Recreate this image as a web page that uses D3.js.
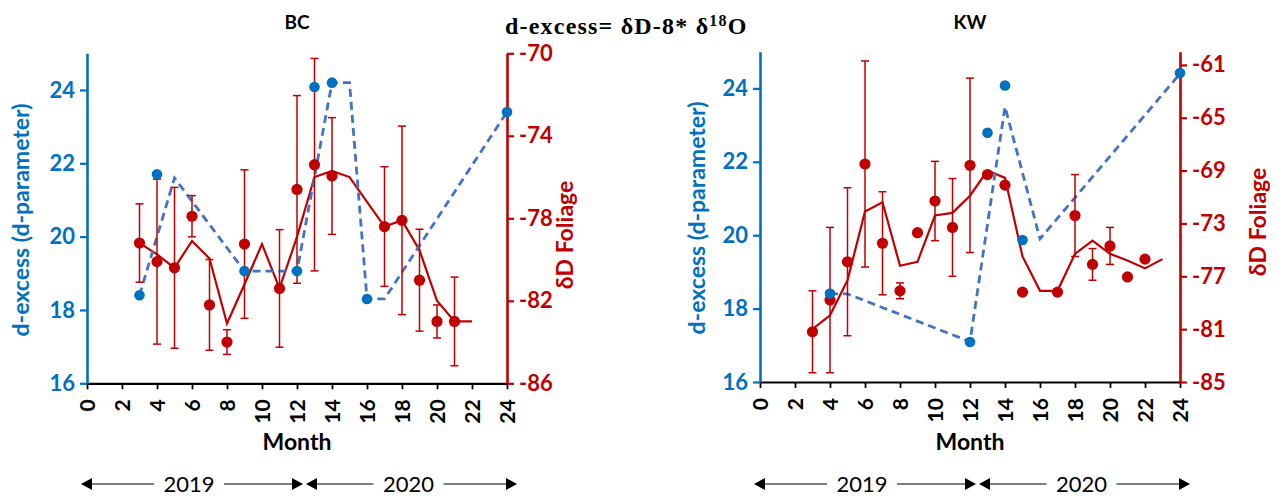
<!DOCTYPE html>
<html><head><meta charset="utf-8">
<script src="https://cdn.jsdelivr.net/npm/d3@7"></script>
<style>body{margin:0;background:#fff}svg{display:block}</style>
</head><body><svg id="chart" width="1284" height="497"></svg>
<script>
// ---------- data ----------
const monthTicks = [0,2,4,6,8,10,12,14,16,18,20,22,24];
const dexTicks = [16,18,20,22,24];
const bcDDTicks = [-86,-82,-78,-74,-70];
const kwDDTicks = [-85,-81,-77,-73,-69,-65,-61];
const yearLabels = ["2019","2020"];

// BC
const bcDexMonths = [3,4,9,12,13,14,16,24];
const bcDexValues = [18.4,21.7,19.06,19.06,24.08,24.2,18.3,23.4];
const bcDexLineMonths = [3,5,9,12,14,15,16,17,24];
const bcDexLineValues = [18.4,21.6,19.06,19.06,24.2,24.2,18.3,18.3,23.4];
const bcDDMonths = [3,4,5,6,7,8,9,11,12,13,14,17,18,19,20,21];
const bcDDValues = [-79.2,-80.1,-80.4,-77.9,-82.2,-84.0,-79.25,-81.4,-76.6,-75.4,-75.95,-78.4,-78.1,-81.0,-83.0,-83.0];
const bcDDErr = [1.9,4.0,3.9,1.0,2.2,0.6,3.6,2.85,4.55,5.15,2.83,2.9,4.57,2.47,0.8,2.15];
const bcDDLineMonths = [3,4,5,6,7,8,9,10,11,12,13,14,15,16,17,18,19,20,21,22];
const bcDDLineValues = [-79.2,-79.75,-80.4,-79.1,-79.95,-83.1,-81.2,-79.25,-81.4,-78.9,-76.0,-75.7,-76.0,-77.2,-78.4,-78.1,-79.55,-82.0,-83.0,-83.0];

// KW
const kwDexMonths = [4,12,13,14,15,24];
const kwDexValues = [18.41,17.09,22.79,24.08,19.87,24.42];
const kwDexLineMonths = [4,5,12,14,16,24];
const kwDexLineValues = [18.4,18.4,17.1,23.5,19.9,24.4];
const kwDDMonths = [3,4,5,6,7,8,9,10,11,12,13,14,15,17,18,19,20,21,22];
const kwDDValues = [-81.2,-78.8,-75.9,-68.5,-74.5,-78.1,-73.7,-71.3,-73.3,-68.6,-69.3,-70.1,-78.2,-78.2,-72.4,-76.1,-74.7,-77.05,-75.7];
const kwDDErr = [3.1,5.5,5.6,7.8,3.9,0.6,0,3.0,3.7,6.6,0,0,0,0,3.1,1.2,1.4,0,0];
const kwDDLineMonths = [3,4,5,6,7,8,9,10,11,12,13,14,15,16,17,18,19,20,21,22,23];
const kwDDLineValues = [-81.0,-79.95,-77.3,-72.1,-71.4,-76.2,-75.9,-72.4,-72.2,-70.9,-69.0,-69.55,-75.5,-78.1,-78.1,-75.3,-74.3,-75.3,-75.8,-76.4,-75.7];

// ---------- style ----------
const BLUE = "#0070C0", DASH = "#4472C4", RED = "#C00000";
const FONT = "Lato, 'Liberation Sans', sans-serif";
const svg = d3.select("#chart");
svg.append("rect").attr("width",1284).attr("height",497).attr("fill","#fff");

function panel(o){
  const g = svg.append("g");
  const x = d3.scaleLinear().domain([0,24]).range(o.xRange);
  const yL = d3.scaleLinear().domain(o.dexDomain).range(o.yRange);
  const yR = d3.scaleLinear().domain(o.ddDomain).range(o.yRange);

  // x axis
  const xa = g.append("g").attr("transform",`translate(0,${o.yRange[0]})`)
    .call(d3.axisBottom(x).tickValues(monthTicks).tickSize(6).tickSizeOuter(0));
  xa.select(".domain").attr("stroke","#000").attr("stroke-width",2.2);
  xa.selectAll(".tick line").attr("stroke","#000").attr("stroke-width",1.8);
  xa.selectAll(".tick text").attr("transform","rotate(-90)").attr("x",-16).attr("y",0)
    .attr("dy","0.36em").style("text-anchor","end")
    .attr("fill","#000").style("font-family",FONT).style("font-weight","bold").style("font-size","21px");

  // left axis
  const la = g.append("g").attr("transform",`translate(${o.xRange[0]},0)`)
    .call(d3.axisLeft(yL).tickValues(dexTicks).tickSize(7).tickSizeOuter(0).tickPadding(5));
  la.select(".domain").attr("stroke",BLUE).attr("stroke-width",2.6);
  la.selectAll(".tick line").attr("stroke",BLUE).attr("stroke-width",2.2);
  la.selectAll(".tick text").attr("fill",BLUE).style("font-family",FONT).style("font-weight","bold").style("font-size","22px");

  // right axis
  const ra = g.append("g").attr("transform",`translate(${o.xRange[1]},0)`)
    .call(d3.axisRight(yR).tickValues(o.ddTicks).tickSize(7).tickSizeOuter(0).tickPadding(5));
  ra.select(".domain").attr("stroke",RED).attr("stroke-width",2.6);
  ra.selectAll(".tick line").attr("stroke",RED).attr("stroke-width",2.2);
  ra.selectAll(".tick text").attr("fill",RED).style("font-family",FONT).style("font-weight","bold").style("font-size","22px")
    .text(d => d3.format("d")(d).replace("−","-"));

  // red trend line
  const ddLine = o.ddLineMonths.map((m,i)=>[m,o.ddLineValues[i]]);
  g.append("path").datum(ddLine)
    .attr("d", d3.line().x(d=>x(d[0])).y(d=>yR(d[1])))
    .attr("fill","none").attr("stroke",RED).attr("stroke-width",2.2);

  // blue dashed line
  const dexLine = o.dexLineMonths.map((m,i)=>[m,o.dexLineValues[i]]);
  g.append("path").datum(dexLine)
    .attr("d", d3.line().x(d=>x(d[0])).y(d=>yL(d[1])))
    .attr("fill","none").attr("stroke",DASH).attr("stroke-width",2.8).attr("stroke-dasharray","8,5");

  // error bars
  const dd = o.ddMonths.map((m,i)=>({m, v:o.ddValues[i], e:o.ddErr[i]}));
  const eb = g.append("g").attr("stroke",RED).attr("stroke-width",1.5).attr("fill","none");
  dd.filter(d=>d.e>0).forEach(d=>{
    const cx = x(d.m), t = yR(d.v+d.e), b = yR(d.v-d.e);
    eb.append("line").attr("x1",cx).attr("x2",cx).attr("y1",t).attr("y2",b);
    eb.append("line").attr("x1",cx-4).attr("x2",cx+4).attr("y1",t).attr("y2",t);
    eb.append("line").attr("x1",cx-4).attr("x2",cx+4).attr("y1",b).attr("y2",b);
  });

  // red dots
  g.append("g").selectAll("circle").data(dd).join("circle")
    .attr("cx",d=>x(d.m)).attr("cy",d=>yR(d.v)).attr("r",5.6).attr("fill",RED);

  // blue dots
  const dex = o.dexMonths.map((m,i)=>[m,o.dexValues[i]]);
  g.append("g").selectAll("circle").data(dex).join("circle")
    .attr("cx",d=>x(d[0])).attr("cy",d=>yL(d[1])).attr("r",5.3).attr("fill",BLUE);

  // titles
  g.append("text").attr("x",(o.xRange[0]+o.xRange[1])/2).attr("y",29).attr("text-anchor","middle")
    .style("font-family",FONT).style("font-weight","bold").style("font-size","19px").text(o.title);
  g.append("text").attr("transform",`translate(${o.leftLabelX},${o.leftLabelY}) rotate(-90)`)
    .attr("text-anchor","middle").attr("dy","0.35em").attr("fill",BLUE)
    .style("font-family",FONT).style("font-weight","bold").style("font-size","23px").text("d-excess (d-parameter)");
  g.append("text").attr("transform",`translate(${o.rightLabelX},${o.rightLabelY}) rotate(-90)`)
    .attr("text-anchor","middle").attr("dy","0.35em").attr("fill",RED)
    .style("font-family",FONT).style("font-weight","bold").style("font-size","23px").text("δD Foliage");
  g.append("text").attr("x",(o.xRange[0]+o.xRange[1])/2).attr("y",450).attr("text-anchor","middle")
    .style("font-family",FONT).style("font-weight","bold").style("font-size","23px").text("Month");

  // year arrows
  const ay = 484;
  const arrows = [[o.xRange[0]-6, x(12)+6, yearLabels[0]],[x(12)+9, x(24)+10, yearLabels[1]]];
  arrows.forEach(([a,b,lab])=>{
    const mid = (a+b)/2, half = 30;
    const ag = g.append("g");
    ag.append("line").attr("x1",a+10).attr("x2",mid-half-8).attr("y1",ay).attr("y2",ay).attr("stroke","#000").attr("stroke-width",1.2);
    ag.append("line").attr("x1",mid+half+2).attr("x2",b-10).attr("y1",ay).attr("y2",ay).attr("stroke","#000").attr("stroke-width",1.2);
    ag.append("path").attr("d",`M${a},${ay} L${a+11},${ay-6} L${a+11},${ay+6} Z`).attr("fill","#000");
    ag.append("path").attr("d",`M${b},${ay} L${b-11},${ay-6} L${b-11},${ay+6} Z`).attr("fill","#000");
    ag.append("text").attr("x",mid-3).attr("y",ay+8).attr("text-anchor","middle")
      .style("font-family",FONT).style("font-size","22px").text(lab);
  });
}

panel({title:"BC", xRange:[87,507], yRange:[383.3,53.3], dexDomain:[16,25], ddDomain:[-86,-70], ddTicks:bcDDTicks,
  dexMonths:bcDexMonths, dexValues:bcDexValues, dexLineMonths:bcDexLineMonths, dexLineValues:bcDexLineValues,
  ddMonths:bcDDMonths, ddValues:bcDDValues, ddErr:bcDDErr, ddLineMonths:bcDDLineMonths, ddLineValues:bcDDLineValues,
  leftLabelX:21, leftLabelY:220, rightLabelX:565, rightLabelY:235});
panel({title:"KW", xRange:[760,1180], yRange:[382,51.7], dexDomain:[16,25], ddDomain:[-85,-60], ddTicks:kwDDTicks,
  dexMonths:kwDexMonths, dexValues:kwDexValues, dexLineMonths:kwDexLineMonths, dexLineValues:kwDexLineValues,
  ddMonths:kwDDMonths, ddValues:kwDDValues, ddErr:kwDDErr, ddLineMonths:kwDDLineMonths, ddLineValues:kwDDLineValues,
  leftLabelX:697, leftLabelY:218, rightLabelX:1258, rightLabelY:222});

// main formula title
const ft = svg.append("text").attr("x",505).attr("y",34)
  .style("font-family","'Liberation Serif', 'Times New Roman', serif").style("font-weight","bold")
  .style("font-size","24px").style("letter-spacing","1.2px");
ft.append("tspan").text("d-excess= δD-8* δ");
ft.append("tspan").attr("dy",-8).style("font-size","16px").text("18");
ft.append("tspan").attr("dy",8).text("O");
</script></body></html>
